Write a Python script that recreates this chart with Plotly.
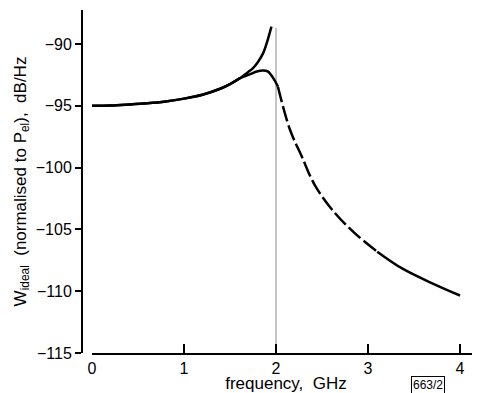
import plotly.graph_objects as go

# Upper (solid) branch diverging near 2 GHz
freq_upper = [0.0, 0.2, 0.4, 0.6, 0.8, 1.0, 1.2, 1.4, 1.5, 1.6, 1.7, 1.75, 1.8, 1.86, 1.91, 1.95]
w_upper = [-95.0, -94.98, -94.9, -94.8, -94.65, -94.42, -94.1, -93.6, -93.25, -92.8, -92.25, -91.95, -91.5, -90.74, -89.66, -88.6]

# Lower (solid) branch with peak just below 2 GHz
freq_lower = [0.0, 0.2, 0.4, 0.6, 0.8, 1.0, 1.2, 1.4, 1.5, 1.6, 1.7, 1.8, 1.86, 1.91, 1.97, 2.02]
w_lower = [-95.0, -94.98, -94.9, -94.8, -94.65, -94.42, -94.1, -93.6, -93.25, -92.8, -92.5, -92.2, -92.14, -92.22, -92.76, -93.44]

# Dashed continuation above 2 GHz
freq_dash = [2.02, 2.15, 2.28, 2.42, 2.62, 2.84, 3.1]
w_dash = [-93.44, -96.9, -99.1, -101.4, -103.5, -105.2, -106.8]

# Solid tail
freq_tail = [3.1, 3.38, 3.71, 4.0]
w_tail = [-106.8, -108.2, -109.4, -110.35]

# Vertical reference line at 2 GHz
ref_x = [2.0, 2.0]
ref_y = [-115.0, -88.7]

x_ticks = [0, 1, 2, 3, 4]
y_ticks = [-115, -110, -105, -100, -95, -90]

FONT = "Liberation Sans"
line_style = dict(color="black", width=2.5)

fig = go.Figure()
fig.add_trace(go.Scatter(x=ref_x, y=ref_y, mode="lines",
                         line=dict(color="#8a8a8a", width=1), hoverinfo="skip"))
fig.add_trace(go.Scatter(x=freq_upper, y=w_upper, mode="lines", line=dict(line_style, shape="spline")))
fig.add_trace(go.Scatter(x=freq_lower, y=w_lower, mode="lines", line=dict(line_style, shape="spline")))
fig.add_trace(go.Scatter(x=freq_dash, y=w_dash, mode="lines",
                         line=dict(line_style, shape="spline", dash="16px,4px")))
fig.add_trace(go.Scatter(x=freq_tail, y=w_tail, mode="lines", line=dict(line_style, shape="spline")))

fig.update_layout(
    width=472, height=385,
    margin=dict(l=74, r=0, t=2, b=40),
    paper_bgcolor="white", plot_bgcolor="white",
    showlegend=False,
    font=dict(family=FONT, size=16, color="black"),
    xaxis=dict(
        domain=[10 / 398, 1], range=[0, 4.217],
        showline=True, linecolor="black", linewidth=2,
        ticks="inside", ticklen=9, tickwidth=1.5, tickcolor="black",
        tickvals=x_ticks, showgrid=False, zeroline=False,
        tickfont=dict(size=16), automargin=False,
        title=dict(text="frequency,  GHz", font=dict(size=17), standoff=5),
    ),
    yaxis=dict(
        anchor="free", position=0, range=[-115, -87.25],
        showline=True, linecolor="black", linewidth=2,
        ticks="outside", ticklen=6, tickwidth=1.5, tickcolor="black",
        tickvals=y_ticks, showgrid=False, zeroline=False,
        tickfont=dict(size=16), automargin=False,
        title=dict(text="W<sub>ideal</sub>  (normalised to P<sub>el</sub>),  dB/Hz",
                   font=dict(size=17), standoff=4),
    ),
    annotations=[dict(
        text="663/2", xref="paper", yref="paper", x=0.869, y=-0.093,
        xanchor="center", yanchor="middle", showarrow=False,
        font=dict(size=12, family=FONT), bordercolor="black", borderwidth=1, borderpad=1,
    )],
)

fig.write_html("out.html")
